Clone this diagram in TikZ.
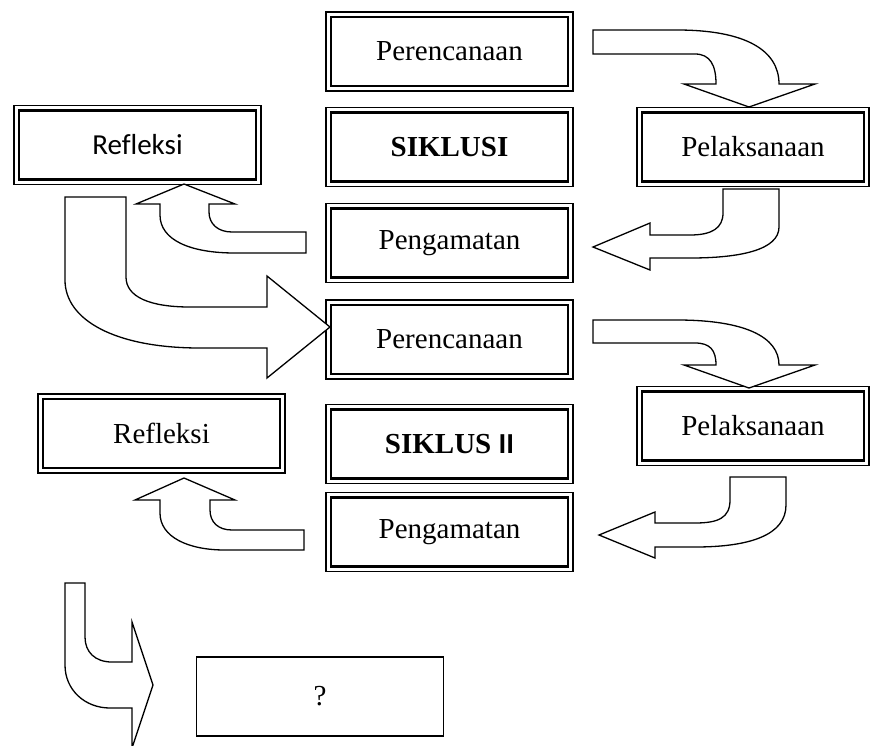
\documentclass[tikz,border=0pt]{standalone}
\usepackage{fontspec}
\setmainfont[Ligatures=NoCommon]{Liberation Serif}
\newfontfamily\calibri[Ligatures=NoCommon]{Carlito}
\usetikzlibrary{positioning}

\tikzset{
  stage/.style={draw, line width=1.2pt, fill=white, minimum width=247pt,
    minimum height=79pt, inner sep=0pt, font=\fontsize{29}{34}\selectfont,
    path picture={\draw[line width=2.2pt]
      ([shift={(5pt,5pt)}]path picture bounding box.south west) rectangle
      ([shift={(-5pt,-5pt)}]path picture bounding box.north east);}},
  result/.style={draw, line width=1.2pt, fill=white, minimum width=247pt,
    minimum height=79pt, inner sep=0pt, font=\fontsize{29}{34}\selectfont},
  barrow/.style={draw, line width=1.3pt, fill=white, line join=miter}
}

\begin{document}
\begin{tikzpicture}[x=1pt, y=-1pt, on grid]
  \fill[white] (0,0) rectangle (880,745);
  \useasboundingbox (0,0) rectangle (880,745);

  % siklus I
  \node[stage] (per1) at (449.5,51.5) {Perencanaan};
  \node[stage] (sik1) [below=95.5pt of per1] {\textbf{SIKLUSI}};
  \node[stage] (peng1) [below=96pt of sik1] {Pengamatan};
  \node[stage, minimum width=232pt] (pel1) [below right=95.5pt and 303.5pt of per1] {Pelaksanaan};
  \node[stage, font=\calibri\fontsize{29}{34}\selectfont] (ref1) [below left=93.5pt and 312pt of per1] {Refleksi};

  % siklus II
  \node[stage] (per2) [below=96.5pt of peng1] {Perencanaan};
  \node[stage] (sik2) [below=104.5pt of per2] {\textbf{SIKLUS {\calibri II}}};
  \node[stage] (peng2) [below=88pt of sik2] {Pengamatan};
  \node[stage, minimum width=232pt] (pel2) [below right=86.5pt and 303.5pt of per2] {Pelaksanaan};
  \node[stage] (ref2) [below left=94pt and 288pt of per2] {Refleksi};

  \node[result] (hasil) [below left=164.5pt and 129.5pt of peng2] {?};

  % panah siklus I
  \draw[barrow] (593,30) -- (677,30) .. controls (745,30) and (779,50) .. (779,84)
    -- (815,84) -- (749,107) -- (684,84) -- (716,84)
    .. controls (716,65) and (710,54) .. (695,54) -- (593,54) -- cycle;
  \draw[barrow] (723,189) -- (779,189) -- (779,227) .. controls (779,250) and (740,258) .. (690,258)
    -- (650,258) -- (650,270) -- (593,247) -- (650,223) -- (650,235) -- (690,235)
    .. controls (712,235) and (723,228) .. (723,213) -- cycle;
  \draw[barrow] (306,232) -- (232,232) .. controls (218,232) and (209,224) .. (209,212)
    -- (209,204) -- (235,204) -- (184,184) -- (136,204) -- (160,204) -- (160,215)
    .. controls (160,240) and (190,253) .. (235,253) -- (306,253) -- cycle;
  \draw[barrow] (65,197) -- (126,197) -- (126,277) .. controls (126,297) and (150,307) .. (190,307)
    -- (267,307) -- (267,276) -- (330,327) -- (267,378) -- (267,348) -- (200,348)
    .. controls (115,348) and (65,320) .. (65,280) -- cycle;

  % panah siklus II
  \draw[barrow] (593,320) -- (677,320) .. controls (745,320) and (779,337) .. (779,365)
    -- (815,365) -- (749,388) -- (684,365) -- (716,365)
    .. controls (716,350) and (710,343) .. (695,343) -- (593,343) -- cycle;
  \draw[barrow] (730,477) -- (786,477) -- (786,505) .. controls (786,535) and (750,547) .. (695,547)
    -- (655,547) -- (655,558) -- (599,535) -- (655,512) -- (655,523) -- (695,523)
    .. controls (718,523) and (730,518) .. (730,500) -- cycle;
  \draw[barrow] (304,530) -- (232,530) .. controls (218,530) and (210,522) .. (210,510)
    -- (210,500) -- (235,500) -- (184,478) -- (135,500) -- (160,500) -- (160,513)
    .. controls (160,537) and (188,550) .. (225,550) -- (304,550) -- cycle;
  \draw[barrow] (65,583) -- (85,583) -- (85,637) .. controls (85,652) and (95,662) .. (112,662)
    -- (132,662) -- (132,622) -- (153,685) -- (132,748) -- (132,708) -- (110,708)
    .. controls (85,708) and (65,690) .. (65,665) -- cycle;
\end{tikzpicture}
\end{document}
